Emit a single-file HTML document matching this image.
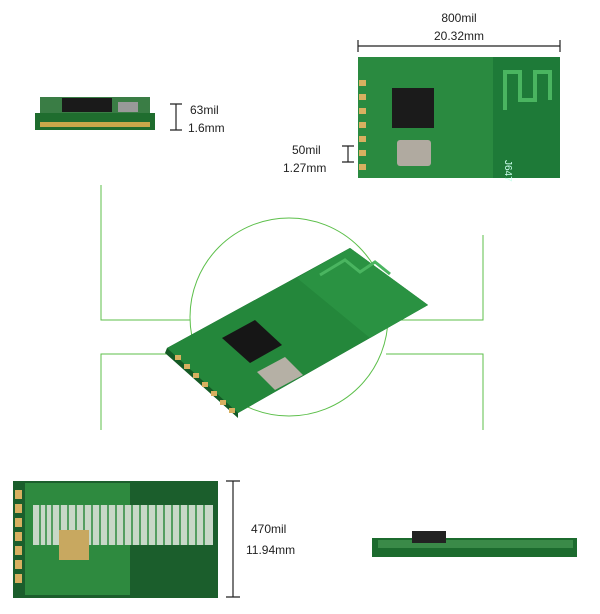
<!DOCTYPE html>
<html><head><style>
body{margin:0;background:#fff;width:600px;height:614px;overflow:hidden;font-family:"Liberation Sans",sans-serif}
svg{display:block}
</style></head><body>
<svg width="600" height="614" viewBox="0 0 600 614" xmlns="http://www.w3.org/2000/svg">
<g font-family="Liberation Sans, sans-serif" font-size="12" fill="#222">
<text x="459" y="22" text-anchor="middle">800mil</text>
<text x="459" y="40" text-anchor="middle">20.32mm</text>
<text x="190" y="114">63mil</text>
<text x="188" y="132">1.6mm</text>
<text x="292" y="154">50mil</text>
<text x="283" y="172">1.27mm</text>
<text x="251" y="533">470mil</text>
<text x="246" y="554">11.94mm</text>
</g>
<g stroke="#222" stroke-width="1.2" fill="none">
<path d="M358 46H560M358 40V52M560 40V52"/>
<path d="M176 104V130M170 104H182M170 130H182"/>
<path d="M348 146V162M342 146H354M342 162H354"/>
<path d="M233 481V597M226 481H240M226 597H240"/>
</g>
<g stroke="#5cbf4a" stroke-width="1" fill="none">
<circle cx="289" cy="317" r="99"/>
<path d="M101 185V320H190"/>
<path d="M101 430V354H190"/>
<path d="M483 235V320H386"/>
<path d="M483 430V354H386"/>
</g>
<rect x="35" y="113" width="120" height="17" fill="#1f6d2e"/>
<rect x="40" y="97" width="110" height="16" fill="#3a7d45"/>
<rect x="62" y="98" width="50" height="14" fill="#1a1a1a"/>
<rect x="118" y="102" width="20" height="10" fill="#999"/>
<rect x="40" y="122" width="110" height="5" fill="#c9a84a"/>
<rect x="358" y="57" width="202" height="121" fill="#1e7a38"/>
<rect x="358" y="57" width="135" height="121" fill="#2a8a40"/>
<g stroke="#4ab560" stroke-width="4" fill="none"><path d="M505 110V72H520V100H535V72H550V100"/></g>
<rect x="392" y="88" width="42" height="40" fill="#1b1b1b"/>
<rect x="397" y="140" width="34" height="26" rx="3" fill="#b0aaa0"/>
<g fill="#d8b060"><rect x="359" y="80" width="7" height="6"/><rect x="359" y="94" width="7" height="6"/><rect x="359" y="108" width="7" height="6"/><rect x="359" y="122" width="7" height="6"/><rect x="359" y="136" width="7" height="6"/><rect x="359" y="150" width="7" height="6"/><rect x="359" y="164" width="7" height="6"/></g>
<text x="505" y="160" font-size="10" fill="#cfe" font-family="Liberation Sans" transform="rotate(90 505 160)">J647</text>
<polygon points="167,348 350,248 428,305 238,413 238,418 165,353" fill="#145a25"/>
<polygon points="167,348 350,248 428,305 238,413" fill="#24873b"/>
<polygon points="297,278 350,248 428,305 370,338" fill="#2a9242"/>
<polygon points="222,338 255,320 282,345 250,363" fill="#161616"/>
<polygon points="257,372 285,357 303,375 275,390" fill="#b5b0a5"/>
<g fill="#d8b060"><rect x="175" y="355" width="6" height="5"/><rect x="184" y="364" width="6" height="5"/><rect x="193" y="373" width="6" height="5"/><rect x="202" y="382" width="6" height="5"/><rect x="211" y="391" width="6" height="5"/><rect x="220" y="400" width="6" height="5"/><rect x="229" y="408" width="6" height="5"/></g>
<g stroke="#4ab560" stroke-width="3" fill="none"><path d="M320 275L345 260L360 272L375 262L390 274"/></g>
<rect x="13" y="481" width="205" height="117" fill="#1b5e2c"/>
<rect x="25" y="483" width="105" height="112" fill="#2e8a3f"/>
<rect x="33" y="505" width="180" height="40" fill="#c8d8c8"/>
<g stroke="#2e8a3f" stroke-width="1.5"><path d="M40 505V545M46 505V545M52 505V545M60 505V545M68 505V545M76 505V545M84 505V545M92 505V545M100 505V545M108 505V545M116 505V545M124 505V545M132 505V545M140 505V545M148 505V545M156 505V545M164 505V545M172 505V545M180 505V545M188 505V545M196 505V545M204 505V545"/></g>
<rect x="59" y="530" width="30" height="30" fill="#c8a860"/>
<g fill="#d8b060"><rect x="15" y="490" width="7" height="9"/><rect x="15" y="504" width="7" height="9"/><rect x="15" y="518" width="7" height="9"/><rect x="15" y="532" width="7" height="9"/><rect x="15" y="546" width="7" height="9"/><rect x="15" y="560" width="7" height="9"/><rect x="15" y="574" width="7" height="9"/></g>
<rect x="372" y="538" width="205" height="19" fill="#1c6b2e"/>
<rect x="378" y="540" width="195" height="8" fill="#3a8a48"/>
<rect x="412" y="531" width="34" height="12" fill="#222"/>
</svg>
</body></html>
